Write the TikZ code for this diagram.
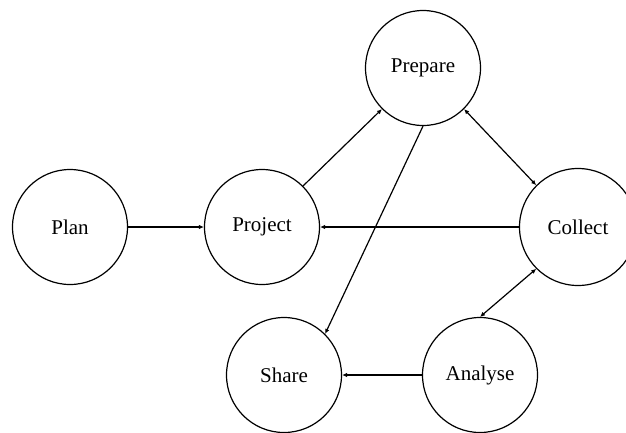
\documentclass[tikz,border=0pt]{standalone}
\usepackage{fontspec}
\setmainfont{Liberation Serif}
\usetikzlibrary{arrows.meta}
\begin{document}
\begin{tikzpicture}[x=1pt,y=-1pt,
  stage/.style={circle,draw,line width=1.2pt,minimum size=115pt,inner sep=0pt,font=\fontsize{21}{25}\selectfont},
  conn/.style={line width=1.2pt,-{Latex[length=5pt,width=4.5pt]}},
  biconn/.style={line width=1.2pt,{Latex[length=5pt,width=4.5pt]}-{Latex[length=5pt,width=4.5pt]}}]
\useasboundingbox (0,0) rectangle (626,432);
\clip (0,0) rectangle (626,432);
\node[stage] (plan) at (70,227) {Plan};
\node[stage] (project) at (262,227) {Project};
\node[stage] (prepare) at (423,68) {Prepare};
\node[stage,minimum size=117pt] (collect) at (578,227) {Collect};
\node[stage] (share) at (284,375) {Share};
\node[stage] (analyse) at (480,375) {Analyse};
\draw[conn] (plan.east) -- (project.west);
\draw[conn] (project.north east) -- (prepare.south west);
\draw[biconn] (prepare.south east) -- (collect.north west);
\draw[conn] (collect.west) -- (project.east);
\draw[conn] (prepare.south) -- (share.north east);
\draw[biconn] (collect.south west) -- (analyse.north);
\draw[conn] (analyse.west) -- (share.east);
\end{tikzpicture}
\end{document}
